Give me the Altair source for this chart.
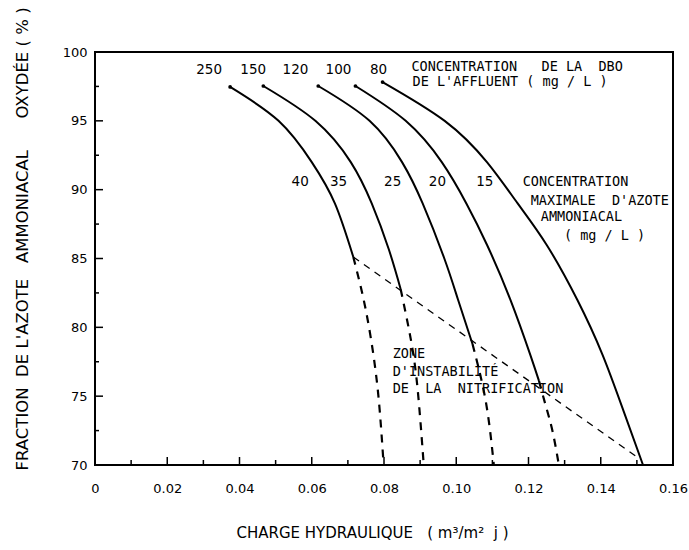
import altair as alt
import pandas as pd

# ---------------- data ----------------
dbo_labels = ["250", "150", "120", "100", "80"]
nh4_labels = ["40", "35", "25", "20", "15"]

# solid parts of the curves (x = charge hydraulique, y = % oxydée)
c250_x = [0.0374, 0.0508, 0.0600, 0.0664, 0.0715]
c250_y = [97.46, 95.00, 92.00, 89.00, 85.11]
c150_x = [0.0466, 0.0610, 0.0708, 0.0766, 0.0813, 0.0846]
c150_y = [97.53, 95.00, 92.00, 89.00, 85.69, 82.79]
c120_x = [0.0618, 0.0760, 0.0850, 0.0907, 0.0967, 0.1005, 0.1045]
c120_y = [97.53, 95.00, 92.00, 89.00, 85.00, 82.00, 78.79]
c100_x = [0.0721, 0.0860, 0.0960, 0.1028, 0.1085, 0.1150, 0.1205, 0.1229]
c100_y = [97.53, 95.00, 92.00, 89.00, 86.00, 82.00, 78.00, 76.11]
c80_x = [0.0796, 0.0968, 0.1085, 0.1170, 0.1250, 0.1335, 0.1405, 0.1462, 0.1517]
c80_y = [97.82, 95.00, 92.00, 89.00, 86.00, 82.00, 78.00, 74.00, 70.00]

# dashed (unstable) continuations
d250_x = [0.0715, 0.0749, 0.0776, 0.0790, 0.0799]
d250_y = [85.11, 81.34, 76.98, 73.35, 70.00]
d150_x = [0.0846, 0.0874, 0.0893, 0.0910]
d150_y = [82.79, 79.16, 75.53, 70.00]
d120_x = [0.1045, 0.1082, 0.1104]
d120_y = [78.79, 74.58, 70.00]
d100_x = [0.1229, 0.1248, 0.1267, 0.1284]
d100_y = [76.11, 74.29, 72.40, 70.00]

# boundary of the instability zone
bound_x = [0.0715, 0.1510]
bound_y = [85.11, 70.40]

# axis ticks
x_label_values = [0.0, 0.02, 0.04, 0.06, 0.08, 0.10, 0.12, 0.14, 0.16]
x_major_ticks = [0.02, 0.04, 0.06, 0.08, 0.10, 0.12, 0.14]
x_minor_ticks = [0.01, 0.03, 0.05, 0.07, 0.09, 0.11, 0.13, 0.15]
y_major_ticks = [75, 80, 85, 90, 95]
y_minor_ticks = [72.5, 77.5, 82.5, 87.5, 92.5, 97.5]

# annotations (text, x, y) in data units
dbo_text_x = [0.0316, 0.0438, 0.0555, 0.0674, 0.0785]
dbo_text_y = 98.69
nh4_text_x = [0.0568, 0.0674, 0.0824, 0.0948, 0.1079]
nh4_text_y = 90.56
notes_text = ["CONCENTRATION   DE LA  DBO", "DE L'AFFLUENT ( mg / L )",
              "CONCENTRATION", "MAXIMALE  D'AZOTE", "AMMONIACAL", "( mg / L )",
              "ZONE", "D'INSTABILITÉ", "DE  LA  NITRIFICATION"]
notes_x = [0.0876, 0.0879, 0.1184, 0.1206, 0.1234, 0.1298, 0.0824, 0.0824, 0.0824]
notes_y = [98.90, 97.82, 90.56, 89.18, 88.02, 86.64, 78.07, 76.76, 75.53]

# ---------------- tables ----------------
def seg(name, xs, ys):
    return pd.DataFrame({"curve": name, "x": xs, "y": ys, "o": range(len(xs))})

solid = pd.concat([seg("250", c250_x, c250_y), seg("150", c150_x, c150_y),
                   seg("120", c120_x, c120_y), seg("100", c100_x, c100_y),
                   seg("80", c80_x, c80_y)])
dashed = pd.concat([seg("250", d250_x, d250_y), seg("150", d150_x, d150_y),
                    seg("120", d120_x, d120_y), seg("100", d100_x, d100_y)])
bound = seg("b", bound_x, bound_y)
starts = solid[solid["o"] == 0]

lab_df = pd.DataFrame({"t": dbo_labels + nh4_labels,
                       "x": dbo_text_x + nh4_text_x,
                       "y": [dbo_text_y] * 5 + [nh4_text_y] * 5})
notes_df = pd.DataFrame({"t": [s.replace(" ", "\u00a0") for s in notes_text],
                         "x": notes_x, "y": notes_y})

FONT = "DejaVu Sans"
MONO = "DejaVu Sans Mono"
W, H = 578, 413
NB = "\u00a0"

xs = alt.Scale(domain=[0, 0.16], nice=False, zero=False)
ys = alt.Scale(domain=[70, 100], nice=False, zero=False)

x_title = "CHARGE" + NB + "HYDRAULIQUE" + NB * 3 + "(" + NB + "m³/m²" + NB * 2 + "j" + NB + ")"
y_title = ("FRACTION" + NB * 2 + "DE" + NB + "L'AZOTE" + NB * 3 + "AMMONIACAL" + NB * 6
           + "OXYDÉE" + NB + "(" + NB + "%" + NB + ")")

X = alt.X("x:Q", scale=xs, axis=alt.Axis(
    values=x_label_values, labelExpr="datum.value == 0 ? '0' : format(datum.value, '.2f')",
    ticks=False, domain=False, grid=False, labelPadding=17, labelFont=FONT,
    labelFontSize=13, labelColor="black", labelFlush=False,
    title=x_title,
    titleFont=FONT, titleFontSize=15, titleFontWeight="normal", titleColor="black",
    titleX=277, titleY=67, titleAlign="center", titleBaseline="middle"))
Y = alt.Y("y:Q", scale=ys, axis=alt.Axis(
    values=[70, 75, 80, 85, 90, 95, 100], ticks=False, domain=False, grid=False,
    labelPadding=8, labelFont=FONT, labelFontSize=13, labelColor="black",
    labelFlush=False,
    title=y_title,
    titleFont=FONT, titleFontSize=16.5, titleFontWeight="normal", titleColor="black",
    titleAngle=270, titleAlign="left", titleBaseline="middle", titleX=-73, titleY=418))

solid_l = alt.Chart(solid).mark_line(color="black", strokeWidth=2, interpolate="natural").encode(
    x=X, y=Y, detail="curve:N", order="o:Q")
dashed_l = alt.Chart(dashed).mark_line(color="black", strokeWidth=2.2, strokeDash=[8, 7],
                                       interpolate="natural").encode(
    x="x:Q", y="y:Q", detail="curve:N", order="o:Q")
bound_l = alt.Chart(bound).mark_line(color="black", strokeWidth=1.3, strokeDash=[7, 6]).encode(
    x="x:Q", y="y:Q", order="o:Q")
dots = alt.Chart(starts).mark_circle(color="black", size=14, opacity=1).encode(x="x:Q", y="y:Q")

tk_xmaj = alt.Chart(pd.DataFrame({"x": x_major_ticks})).mark_rule(color="black", strokeWidth=1.5).encode(
    x="x:Q", y=alt.value(H), y2=alt.value(H - 8))
tk_xmin = alt.Chart(pd.DataFrame({"x": x_minor_ticks})).mark_rule(color="black", strokeWidth=1.5).encode(
    x="x:Q", y=alt.value(H), y2=alt.value(H - 5))
tk_ymaj = alt.Chart(pd.DataFrame({"y": y_major_ticks})).mark_rule(color="black", strokeWidth=1.5).encode(
    y="y:Q", x=alt.value(0), x2=alt.value(8))
tk_ymin = alt.Chart(pd.DataFrame({"y": y_minor_ticks})).mark_rule(color="black", strokeWidth=1.5).encode(
    y="y:Q", x=alt.value(0), x2=alt.value(4))

labels = alt.Chart(lab_df).mark_text(font=FONT, fontSize=13.5, color="black", align="center",
                                     baseline="middle").encode(x="x:Q", y="y:Q", text="t:N")
notes = alt.Chart(notes_df).mark_text(font=MONO, fontSize=13.5, color="black", align="left",
                                      baseline="middle").encode(x="x:Q", y="y:Q", text="t:N")

chart = alt.layer(solid_l, dashed_l, bound_l, dots, tk_xmaj, tk_xmin, tk_ymaj, tk_ymin,
                  labels, notes).properties(
    width=W, height=H,
    autosize=alt.AutoSizeParams(type="none"),
    padding={"left": 95, "top": 52, "right": 16, "bottom": 85},
    background="white",
).configure_view(stroke="black", strokeWidth=2)

chart.save("out.html", embed_options={"renderer": "svg", "actions": False})
